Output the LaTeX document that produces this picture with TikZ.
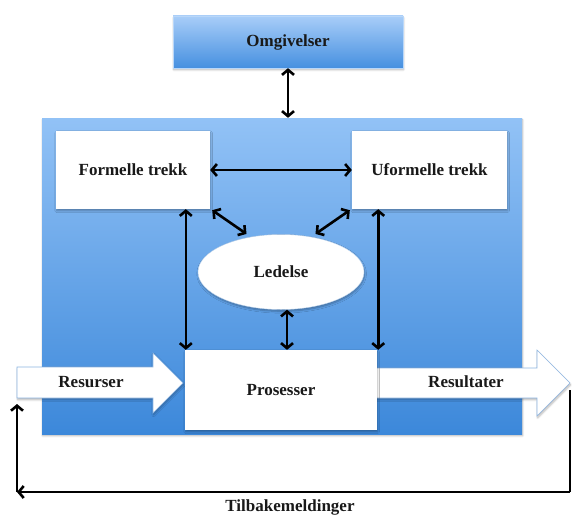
\documentclass[tikz,border=0pt]{standalone}
\usepackage{fontspec}
\setmainfont{Liberation Serif}
\usetikzlibrary{arrows.meta,shapes.geometric,shadows.blur,calc}
\definecolor{bluetop}{RGB}{146,194,246}
\definecolor{bluebot}{RGB}{60,136,218}
\definecolor{omgtop}{RGB}{168,205,248}
\definecolor{omgbot}{RGB}{70,144,224}
\definecolor{arrowedge}{RGB}{140,180,225}
\tikzset{
  lbl/.style={font=\fontsize{17}{19}\selectfont\bfseries, text=black!90},
  shd/.style={blur shadow={shadow blur steps=6, shadow xshift=0.6pt, shadow yshift=-1.8pt, shadow opacity=30}},
  whitebox/.style={rectangle, fill=white, draw=none, shd, lbl},
  link/.style={line width=2.6pt, {Straight Barb[length=5pt,width=12pt]}-{Straight Barb[length=5pt,width=12pt]}},
  onelink/.style={line width=2.6pt, -{Straight Barb[length=5pt,width=12pt]}},
  plain/.style={line width=2.6pt},
  blockarrow/.style={fill=white, draw=arrowedge, line width=0.6pt, line join=miter, shd}
}
\begin{document}
\begin{tikzpicture}[x=1pt,y=-1pt]
\useasboundingbox (0,0) rectangle (572,519);

% environment box on top
\node[rectangle, top color=omgtop, bottom color=omgbot, draw=omgtop!80!white, line width=0.4pt,
      minimum width=230pt, minimum height=52pt, inner sep=0pt, shd, lbl] (omg) at (288,42) {Omgivelser};

% the organisation
\node[rectangle, top color=bluetop, bottom color=bluebot, draw=none,
      minimum width=480pt, minimum height=316pt, inner sep=0pt, shd] (org) at (282,276) {};

% inputs and outputs
\draw[blockarrow] (17,367) -- (153,367) -- (153,353) -- (183,383) -- (153,413) -- (153,398) -- (17,398) -- cycle;
\node[lbl] (res) at (91,382) {Resurser};
\draw[blockarrow] (370,368) -- (537,368) -- (537,350) -- (570,383) -- (537,416) -- (537,398) -- (370,398) -- cycle;
\node[lbl] (out) at (466,382) {Resultater};

% inner elements
\node[whitebox, minimum width=154pt, minimum height=78pt, inner sep=0pt] (form) at (133,170) {Formelle trekk};
\node[whitebox, minimum width=155pt, minimum height=78pt, inner sep=0pt] (uform) at (429.5,170) {Uformelle trekk};
\node[ellipse, fill=white, draw=arrowedge!60!white, line width=0.4pt, shd, lbl,
      minimum width=166pt, minimum height=75pt, inner sep=0pt] (led) at (281,272) {Ledelse};
\node[whitebox, minimum width=192pt, minimum height=80pt, inner sep=0pt] (pros) at (281,390) {Prosesser};

% connections
\draw[link] (omg.south) -- (org.north -| omg.south);
\draw[link] (form.east) -- (uform.west);
\draw[link] ($(form.south east)+(2,1)$) -- ($(led.131)+(-4,-3)$);
\draw[link] ($(uform.south west)+(-2,1)$) -- ($(led.49)+(4,-3)$);
\draw[link] ($(form.south -| pros.north west)+(1,0)$) -- ($(pros.north west)+(1,0)$);
\draw[link] ($(uform.south -| pros.north east)+(1,0)$) -- ($(pros.north east)+(1,0)$);
\draw[link] ($(led.south)+(6,0)$) -- ($(pros.north)+(6,0)$);

% feedback loop
\coordinate (fbR) at (570,390);
\coordinate (fbB) at (570,492);
\coordinate (fbL) at (17,492);
\coordinate (fbT) at (17,404);
\draw[plain] (fbR) -- (fbB);
\draw[onelink] (fbB) -- (fbL);
\draw[onelink] (fbL) -- (fbT);
\node[lbl] (fb) at (290,507) {Tilbakemeldinger};
\end{tikzpicture}
\end{document}
